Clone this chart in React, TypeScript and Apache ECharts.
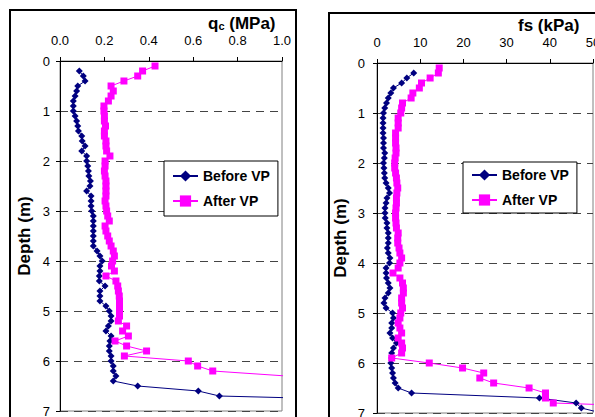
import React, { useEffect, useRef } from "react";
import * as echarts from "echarts";

// ---- Data ----
const qcTicks = [0, 0.2, 0.4, 0.6, 0.8, 1.0];
const fsTicks = [0, 10, 20, 30, 40, 50];

const depthQcBefore = [0.2,0.3,0.4,0.5,0.6,0.7,0.8,0.9,1.0,1.1,1.2,1.3,1.4,1.5,1.6,1.7,1.8,1.9,2.0,2.1,2.2,2.3,2.4,2.5,2.6,2.7,2.8,2.9,3.0,3.1,3.2,3.3,3.4,3.5,3.6,3.7,3.8,3.9,4.0,4.1,4.2,4.3,4.4,4.5,4.6,4.7,4.8,4.9,5.0,5.1,5.2,5.3,5.4,5.5,5.6,5.7,5.8,5.9,6.0,6.1,6.2,6.3,6.4,6.5,6.6,6.7,6.8];
const qcBefore = [0.087,0.105,0.113,0.08,0.075,0.068,0.06,0.06,0.06,0.068,0.075,0.08,0.083,0.098,0.1,0.113,0.098,0.12,0.12,0.125,0.128,0.13,0.137,0.135,0.12,0.14,0.14,0.14,0.143,0.15,0.15,0.15,0.15,0.15,0.15,0.15,0.167,0.18,0.19,0.18,0.18,0.177,0.177,0.203,0.18,0.18,0.18,0.207,0.222,0.23,0.23,0.218,0.207,0.23,0.225,0.222,0.222,0.23,0.23,0.24,0.24,0.252,0.24,0.35,0.623,0.718,1.6];

const depthQcAfter = [0.1,0.2,0.3,0.4,0.5,0.6,0.7,0.8,0.9,1.0,1.1,1.2,1.3,1.4,1.5,1.6,1.7,1.8,1.9,2.0,2.1,2.2,2.3,2.4,2.5,2.6,2.7,2.8,2.9,3.0,3.1,3.2,3.3,3.4,3.5,3.6,3.7,3.8,3.9,4.0,4.1,4.2,4.3,4.4,4.5,4.6,4.7,4.8,4.9,5.0,5.1,5.2,5.3,5.4,5.5,5.6,5.7,5.8,5.9,6.0,6.1,6.2,6.3,6.4];
const qcAfter = [0.428,0.372,0.35,0.288,0.23,0.24,0.23,0.218,0.198,0.198,0.2,0.2,0.205,0.2,0.2,0.207,0.207,0.21,0.225,0.203,0.203,0.2,0.203,0.207,0.207,0.207,0.207,0.203,0.207,0.21,0.215,0.222,0.203,0.207,0.215,0.222,0.23,0.24,0.245,0.237,0.232,0.245,0.207,0.252,0.26,0.263,0.267,0.268,0.268,0.268,0.268,0.263,0.3,0.282,0.308,0.248,0.3,0.39,0.29,0.578,0.62,0.688,1.02,1.3];

const depthFsBefore = [0.2,0.3,0.4,0.5,0.6,0.7,0.8,0.9,1.0,1.1,1.2,1.3,1.4,1.5,1.6,1.7,1.8,1.9,2.0,2.1,2.2,2.3,2.4,2.5,2.6,2.7,2.8,2.9,3.0,3.1,3.2,3.3,3.4,3.5,3.6,3.7,3.8,3.9,4.0,4.1,4.2,4.3,4.4,4.5,4.6,4.7,4.8,4.9,5.0,5.1,5.2,5.3,5.4,5.5,5.6,5.7,5.8,5.9,6.0,6.1,6.2,6.3,6.4,6.5,6.6,6.7,6.8,6.9,7.0];
const fsBefore = [8.5,6.9,5.7,3.8,3.2,2.6,2.2,1.8,1.5,1.4,1.4,1.4,1.4,1.5,1.5,1.5,1.8,1.7,1.5,1.6,1.7,1.8,2.1,2.6,2.9,2.3,2.1,1.85,1.85,1.9,2.3,2.3,2.6,2.6,2.6,2.4,2.6,3.0,2.9,2.1,2.1,2.2,2.6,3.0,2.6,1.85,1.6,2.1,3.6,3.8,3.4,3.4,3.0,3.6,4.5,3.8,3.4,3.4,3.2,3.4,3.6,3.8,4.2,4.9,8.0,37.6,46.1,47.3,52];

const depthFsAfter = [0.1,0.2,0.3,0.4,0.5,0.6,0.7,0.8,0.9,1.0,1.1,1.2,1.3,1.4,1.5,1.6,1.7,1.8,1.9,2.0,2.1,2.2,2.3,2.4,2.5,2.6,2.7,2.8,2.9,3.0,3.1,3.2,3.3,3.4,3.5,3.6,3.7,3.8,3.9,4.0,4.1,4.2,4.3,4.4,4.5,4.6,4.7,4.8,4.9,5.0,5.1,5.2,5.3,5.4,5.5,5.6,5.7,5.8,5.9,6.0,6.1,6.2,6.3,6.4,6.5,6.6,6.7,6.8,6.9];
const fsAfter = [14.4,14.2,12.3,10.3,9.8,8.3,7.9,5.9,5.7,5.5,4.9,4.9,4.9,4.3,4.3,4.3,4.4,4.4,4.2,4.1,4.1,4.3,4.5,4.6,4.8,4.6,4.5,4.5,4.4,4.3,4.3,4.4,4.5,4.9,4.8,4.8,5.1,5.3,5.7,5.3,4.9,3.7,5.3,5.9,6.1,6.1,5.7,5.7,5.9,5.5,5.3,4.9,5.3,5.7,4.9,5.7,5.9,5.7,3.4,12.1,19.8,24.7,23.8,27.0,35.2,39.0,39.0,40.8,75];

const depthTicks = [0, 1, 2, 3, 4, 5, 6, 7];
const seriesNames = ["Before VP", "After VP"];

const FONT = "'Liberation Sans', Arial, Helvetica, sans-serif";
const NAVY = "#000080";
const MAGENTA = "#FF00FF";

const pairs = (xs: number[], ds: number[]) => xs.map((x, i) => [x, ds[i]]);

function makeXAxis(gridIndex: number, ticks: number[], decimals: number) {
  return {
    type: "value",
    gridIndex,
    position: "top",
    min: ticks[0],
    max: ticks[ticks.length - 1],
    interval: ticks[1] - ticks[0],
    axisLine: { show: true, onZero: false, lineStyle: { color: "#000", width: 1 } },
    axisTick: { show: true, length: 4, lineStyle: { color: "#000" } },
    axisLabel: {
      formatter: (v: number) => v.toFixed(decimals),
      margin: 14,
      fontSize: 13,
      color: "#000",
      fontFamily: FONT,
      showMaxLabel: true,
      hideOverlap: false,
    },
    splitLine: { show: false },
  };
}

function makeYAxis(gridIndex: number, labelMargin: number, nameGap: number) {
  return {
    type: "value",
    gridIndex,
    inverse: true,
    min: depthTicks[0],
    max: depthTicks[depthTicks.length - 1],
    interval: 1,
    axisLine: { show: true, onZero: false, lineStyle: { color: "#000", width: 1 } },
    axisTick: { show: true, length: 4, lineStyle: { color: "#000" } },
    axisLabel: { margin: labelMargin, fontSize: 13, color: "#000", fontFamily: FONT, showMaxLabel: true },
    splitLine: { show: true, lineStyle: { color: "#444", type: [8, 6], width: 1 } },
    name: "Depth (m)",
    nameLocation: "middle",
    nameRotate: 90,
    nameGap,
    nameTextStyle: { fontWeight: "bold", fontSize: 17, color: "#000", fontFamily: FONT },
  };
}

function makeSeries(name: string, idx: number, data: number[][], color: string, symbol: string, size: number) {
  return {
    type: "line",
    name,
    xAxisIndex: idx,
    yAxisIndex: idx,
    data,
    symbol,
    symbolSize: size,
    showSymbol: true,
    lineStyle: { color, width: 1 },
    itemStyle: { color, borderWidth: 0 },
    clip: true,
  };
}

function makeLegend(left: number, top: number, padV: number) {
  return {
    orient: "vertical",
    left,
    top,
    data: seriesNames,
    padding: [padV, 8, padV, 8],
    itemGap: 11,
    itemWidth: 25,
    itemHeight: 14,
    backgroundColor: "#fff",
    borderColor: "#000",
    borderWidth: 1,
    borderRadius: 0,
    textStyle: { fontSize: 14, fontWeight: "bold", color: "#000", fontFamily: FONT },
    selectedMode: false,
  };
}

export default function App() {
  const ref = useRef<HTMLDivElement>(null);
  useEffect(() => {
    document.body.style.margin = "0";
    if (!ref.current) return;
    const chart = echarts.init(ref.current, null, { renderer: "svg" });
    const option = {
      animation: false,
      backgroundColor: "#fff",
      grid: [
        { left: 60, top: 61, width: 222, height: 350, show: true, borderColor: "#808080", borderWidth: 1, backgroundColor: "transparent", containLabel: false, outerBoundsMode: "none" },
        { left: 377, top: 63, width: 216, height: 350, show: true, borderColor: "#808080", borderWidth: 1, backgroundColor: "transparent", containLabel: false, outerBoundsMode: "none" },
      ],
      xAxis: [makeXAxis(0, qcTicks, 1), makeXAxis(1, fsTicks, 0)],
      yAxis: [makeYAxis(0, 10, 27), makeYAxis(1, 12, 28)],
      legend: [makeLegend(164, 161, 8), makeLegend(463, 162, 6)],
      series: [
        makeSeries(seriesNames[0], 0, pairs(qcBefore, depthQcBefore), NAVY, "diamond", 7),
        makeSeries(seriesNames[1], 0, pairs(qcAfter, depthQcAfter), MAGENTA, "rect", 7),
        makeSeries(seriesNames[0], 1, pairs(fsBefore, depthFsBefore), NAVY, "diamond", 7),
        makeSeries(seriesNames[1], 1, pairs(fsAfter, depthFsAfter), MAGENTA, "rect", 7),
      ],
      graphic: [
        { type: "rect", shape: { x: 10, y: 10, width: 286, height: 440 }, style: { fill: "none", stroke: "#000", lineWidth: 2 }, silent: true, z: 100 },
        { type: "rect", shape: { x: 329, y: 13, width: 320, height: 440 }, style: { fill: "none", stroke: "#000", lineWidth: 2 }, silent: true, z: 100 },
        {
          type: "text",
          x: 208,
          y: 23,
          style: {
            text: "{a|q}{b|c}{a| (MPa)}",
            verticalAlign: "middle",
            align: "left",
            rich: {
              a: { fontSize: 17, fontWeight: "bold", fontFamily: FONT, fill: "#000" },
              b: { fontSize: 11, fontWeight: "bold", fontFamily: FONT, fill: "#000", verticalAlign: "bottom", padding: [6, 0, 0, 0] },
            },
          },
          z: 100,
        },
        {
          type: "text",
          x: 518,
          y: 25,
          style: {
            text: "fs (kPa)",
            verticalAlign: "middle",
            align: "left",
            fontSize: 17,
            fontWeight: "bold",
            fontFamily: FONT,
            fill: "#000",
          },
          z: 100,
        },
      ],
    };
    chart.setOption(option as any);
    return () => chart.dispose();
  }, []);
  return <div ref={ref} style={{ width: 595, height: 417 }} />;
}
